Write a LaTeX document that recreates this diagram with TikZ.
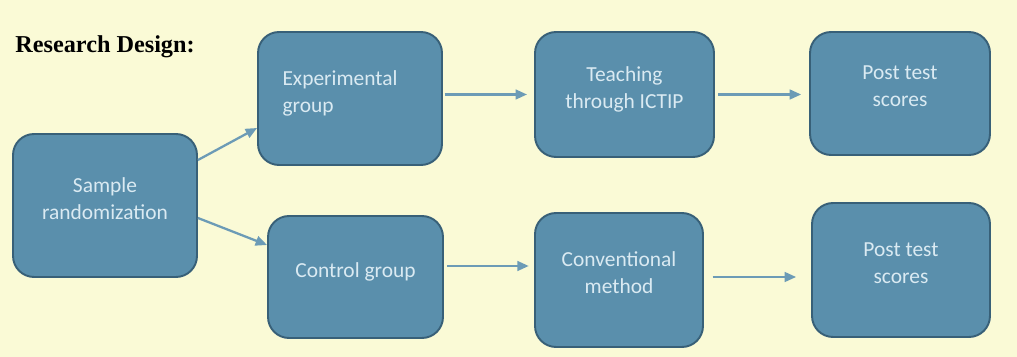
\documentclass[tikz,border=0pt]{standalone}
\usepackage{fontspec}
\setmainfont{Carlito}
\newfontfamily\titlefont{Liberation Serif}
\usetikzlibrary{arrows.meta}
\definecolor{paper}{RGB}{250,250,214}
\definecolor{boxfill}{RGB}{90,143,172}
\definecolor{boxline}{RGB}{56,96,120}
\definecolor{boxtext}{RGB}{218,234,242}
\definecolor{arrowcol}{RGB}{108,155,182}
\tikzset{
  stagebox/.style={draw=boxline, line width=1.1pt, fill=boxfill, rounded corners=0.42cm,
    text=boxtext, align=center, font=\fontsize{12.2}{15.3}\selectfont,
    execute at end node={\rule[-0.28cm]{0pt}{0pt}}},
  flow/.style={->, draw=arrowcol, line width=1.3pt}
}
\begin{document}
\begin{tikzpicture}[x=0.02cm, y=-0.02cm, >={Triangle[length=6.5pt,width=5.5pt]}, line join=round]
	% --- Khung nen ---
	\fill[paper] (0,0) rectangle (1017,357);
	\useasboundingbox (0,0) rectangle (1017,357);
	
	% --- Tieu de ---
	\node[anchor=base west, inner sep=0pt, font=\titlefont\bfseries\fontsize{13.8}{16}\selectfont] (title) at (15,53) {Research Design:};
	
	% --- Cac khoi ---
	\node[stagebox, minimum width=3.68cm, minimum height=2.86cm] (samp) at (105,205.5) {Sample\\randomization};
	\node[stagebox, minimum width=3.68cm, minimum height=2.66cm, align=left, text width=2.7cm] (expg) at (350,98.5) {Experimental\\group};
	\node[stagebox, minimum width=3.58cm, minimum height=2.5cm] (teach) at (624.5,94.5) {Teaching\\through ICTIP};
	\node[stagebox, minimum width=3.6cm, minimum height=2.46cm] (posta) at (900,93.5) {Post test\\scores};
	\node[stagebox, minimum width=3.5cm, minimum height=2.44cm] (ctrl) at (355.5,277) {Control group};
	\node[stagebox, minimum width=3.36cm, minimum height=2.68cm] (conv) at (619,280) {Conventional\\method};
	\node[stagebox, minimum width=3.56cm, minimum height=2.68cm] (postb) at (901,270) {Post test\\scores};
	
	% --- Mui ten ---
	\draw[flow] ([yshift=0.91cm]samp.east) -- ([yshift=-0.59cm]expg.west);
	\draw[flow] ([yshift=-0.25cm]samp.east) -- ([yshift=0.64cm]ctrl.west);
	\draw[flow, shorten <=1pt, shorten >=4pt] (expg.east |- teach.west) -- (teach.west);
	\draw[flow, shorten <=2pt, shorten >=4.5pt] (teach.east) -- (teach.east -| posta.west);
	\draw[flow, shorten <=2pt, shorten >=3pt] ([yshift=0.22cm]ctrl.east) coordinate (ce) -- (ce -| conv.west);
	\draw[flow, shorten <=5pt, shorten >=8.5pt] ([yshift=0.06cm]conv.east) coordinate (cv) -- (cv -| postb.west);
\end{tikzpicture}
\end{document}
